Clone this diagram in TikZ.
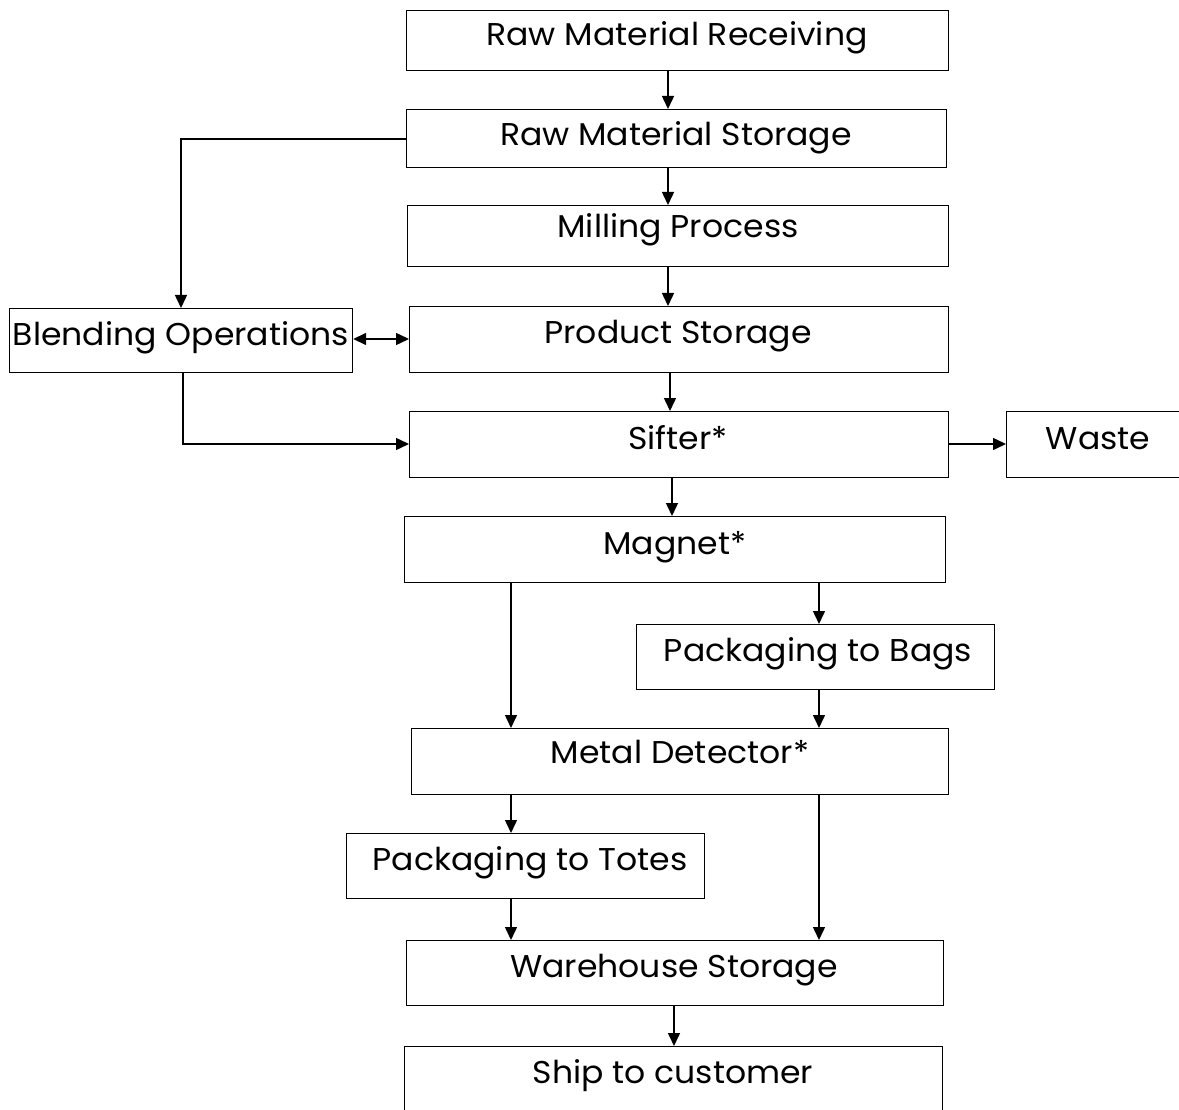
\documentclass[tikz,border=0pt]{standalone}
\usepackage{fontspec}
\setmainfont{Poppins}[FakeStretch=1.05]
\usetikzlibrary{arrows.meta}
\tikzset{
  box/.style={draw, line width=1.2pt, anchor=north west, inner sep=0pt},
  txt/.style={anchor=base, inner sep=0pt, font=\fontsize{31.5}{36}\selectfont},
  arr/.style={line width=1.5pt, -{Triangle[length=13pt,width=12pt]}},
  darr/.style={line width=1.5pt, {Triangle[length=13pt,width=12pt]}-{Triangle[length=13pt,width=12pt]}},
}
\begin{document}
\begin{tikzpicture}[x=1pt,y=-1pt]
\useasboundingbox (0,0) rectangle (1179,1110);
% boxes
\node[box, minimum width=542pt, minimum height=60pt] (rmr) at (406,10) {};
\node[box, minimum width=540pt, minimum height=58pt] (rms) at (406,109) {};
\node[box, minimum width=541pt, minimum height=61pt] (mil) at (407,205) {};
\node[box, minimum width=539pt, minimum height=66pt] (ps) at (409,306) {};
\node[box, minimum width=343pt, minimum height=64pt] (bl) at (9,308) {};
\node[box, minimum width=539pt, minimum height=66pt] (sf) at (409,411) {};
\node[box, minimum width=190pt, minimum height=66pt] (ws) at (1006,411) {};
\node[box, minimum width=541pt, minimum height=66pt] (mg) at (404,516) {};
\node[box, minimum width=358pt, minimum height=65pt] (pb) at (636,624) {};
\node[box, minimum width=537pt, minimum height=66pt] (md) at (411,728) {};
\node[box, minimum width=358pt, minimum height=65pt] (pt) at (346,833) {};
\node[box, minimum width=537pt, minimum height=65pt] (wh) at (406,940) {};
\node[box, minimum width=538pt, minimum height=100pt] (sh) at (404,1046) {};
% texts
\node[txt] (rmrt) at (677,46) {Raw Material Receiving};
\node[txt] (rmst) at (676,146) {Raw Material Storage};
\node[txt] (milt) at (678,238) {Milling Process};
\node[txt] (pst) at (678,343) {Product Storage};
\node[txt] (blt) at (181,345) {Blending Operations};
\node[txt] (sft) at (678,449) {Sifter*};
\node[txt] (wst) at (1098,449) {Waste};
\node[txt] (mgt) at (675,554) {Magnet*};
\node[txt] (pbt) at (818,661) {Packaging to Bags};
\node[txt] (mdt) at (680,763) {Metal Detector*};
\node[txt] (ptt) at (530,870) {Packaging to Totes};
\node[txt] (wht) at (674,977) {Warehouse Storage};
\node[txt] (sht) at (673,1083) {Ship to customer};
% connectors
\draw[arr] (rmr.south -| 668,0) -- (rms.north -| 668,0);
\draw[arr] (rms.south -| 668,0) -- (mil.north -| 668,0);
\draw[arr] (mil.south -| 668,0) -- (ps.north -| 668,0);
\draw[arr] (rms.west |- 0,139) -| (bl.north -| 181,0);
\draw[darr] (bl.east |- 0,339) -- (ps.west |- 0,339);
\draw[arr] (ps.south -| 670,0) -- (sf.north -| 670,0);
\draw[arr] (bl.south -| 183,0) |- (sf.west |- 0,444);
\draw[arr] (sf.east |- 0,444) -- (ws.west |- 0,444);
\draw[arr] (sf.south -| 672,0) -- (mg.north -| 672,0);
\draw[arr] (mg.south -| 511,0) -- (md.north -| 511,0);
\draw[arr] (mg.south -| 819,0) -- (pb.north -| 819,0);
\draw[arr] (pb.south -| 819,0) -- (md.north -| 819,0);
\draw[arr] (md.south -| 511,0) -- (pt.north -| 511,0);
\draw[arr] (md.south -| 819,0) -- (wh.north -| 819,0);
\draw[arr] (pt.south -| 511,0) -- (wh.north -| 511,0);
\draw[arr] (wh.south -| 674,0) -- (sh.north -| 674,0);
\end{tikzpicture}
\end{document}
